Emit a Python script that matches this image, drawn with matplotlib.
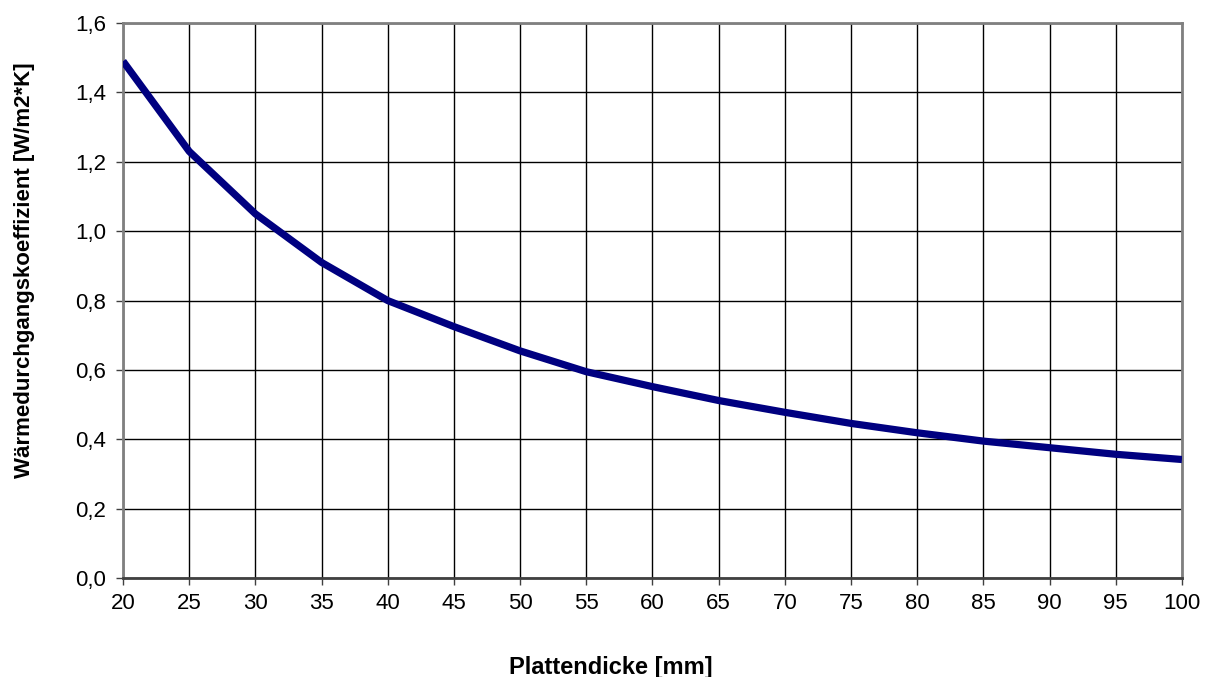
import matplotlib
matplotlib.use("Agg")
import matplotlib.pyplot as plt
from matplotlib.ticker import FuncFormatter, MultipleLocator

plt.rcParams['font.family'] = ['Liberation Sans', 'DejaVu Sans']

# data
dicke = [20, 25, 30, 35, 40, 45, 50, 55, 60, 65, 70, 75, 80, 85, 90, 95, 100]
u_wert = [1.49, 1.23, 1.05, 0.91, 0.80, 0.725, 0.655, 0.595, 0.552, 0.512,
          0.478, 0.446, 0.419, 0.395, 0.376, 0.357, 0.342]

fig = plt.figure(figsize=(12.12, 6.77), dpi=100)
ax = fig.add_axes([0.1015, 0.146, 0.8737, 0.820])

ax.plot(dicke, u_wert, color='#000080', linewidth=5.2, solid_capstyle='butt',
        zorder=3)

ax.set_xlim(20, 100)
ax.set_ylim(0, 1.6)
ax.xaxis.set_major_locator(MultipleLocator(5))
ax.yaxis.set_major_locator(MultipleLocator(0.2))
ax.yaxis.set_major_formatter(FuncFormatter(lambda v, p: f"{v:.1f}".replace('.', ',')))

ax.grid(True, color='black', linewidth=1.0)
ax.set_axisbelow(True)

for side in ['left', 'top', 'right']:
    ax.spines[side].set_color('#808080')
    ax.spines[side].set_linewidth(2)
ax.spines['bottom'].set_color('#404040')
ax.spines['bottom'].set_linewidth(2)

ax.tick_params(axis='both', direction='out', length=5, width=1, color='#404040',
               labelsize=16, labelcolor='black')
ax.tick_params(axis='x', pad=6)
ax.tick_params(axis='y', pad=7)

ax.set_xlabel('Plattendicke [mm]', fontsize=17, fontweight='bold')
ax.set_ylabel('Wärmedurchgangskoeffizient [W/m2*K]', fontsize=16,
              fontweight='bold')
# place axis titles where the reference has them
ax.xaxis.set_label_coords(0.461, -0.14)
ax.yaxis.set_label_coords(-0.083, 0.555)

fig.savefig('out.png', dpi=100, facecolor='white')
